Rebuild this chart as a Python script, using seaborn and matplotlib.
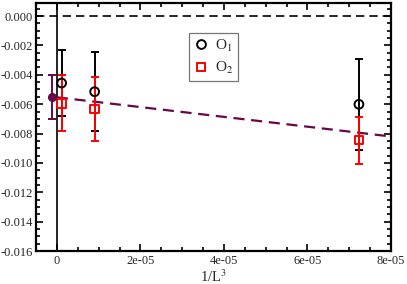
import matplotlib
matplotlib.use("Agg")
import matplotlib.pyplot as plt
import matplotlib.ticker as mticker
import pandas as pd
import seaborn as sns

# data
inv_l3 = [1 / 96**3, 1 / 48**3, 1 / 24**3]
o1 = [-0.00456, -0.00515, -0.00601]
o1_err = [0.00225, 0.0027, 0.0031]
o2 = [-0.00594, -0.00633, -0.00844]
o2_err = [0.0019, 0.0022, 0.0016]
extrap_x = [-1.2e-6]
extrap_y = [-0.00553]
extrap_err = [0.0015]
fit_x = [0.0, 8e-5]
fit_y = [-0.00553, -0.0082]

maroon = "#670748"

sns.set_theme(style="ticks")
plt.rcParams["font.family"] = ["Liberation Serif", "DejaVu Serif"]
plt.rcParams["mathtext.fontset"] = "stix"

fig = plt.figure(figsize=(4.07, 2.84), dpi=100)
ax = fig.add_axes([0.0885, 0.116, 0.872, 0.873])

ax.axhline(0, color="black", ls=(0, (5, 3)), lw=1.2, zorder=1)
ax.axvline(0, color="black", lw=1.2, zorder=1)

df_fit = pd.DataFrame({"x": fit_x, "y": fit_y})
sns.lineplot(data=df_fit, x="x", y="y", ax=ax, color=maroon, lw=1.6, zorder=2)
ax.lines[-1].set_linestyle((0, (5, 3)))

eb = dict(fmt="none", elinewidth=1.4, capsize=3, capthick=1.4)
ax.errorbar(inv_l3, o1, yerr=o1_err, ecolor="black", zorder=3, **eb)
ax.errorbar(inv_l3, o2, yerr=o2_err, ecolor="red", zorder=4, **eb)
ax.errorbar(extrap_x, extrap_y, yerr=extrap_err, ecolor=maroon, zorder=4, **eb)

df = pd.DataFrame({
    "x": inv_l3 * 2,
    "y": o1 + o2,
    "s": ["O$_1$"] * 3 + ["O$_2$"] * 3,
})
sns.scatterplot(data=df, x="x", y="y", hue="s", style="s",
                palette=["black", "red"], markers=["o", "s"], s=40,
                linewidth=1.4, ax=ax, zorder=5)
pts = ax.collections[-1]
pts.set_edgecolors(["black"] * 3 + ["red"] * 3)
pts.set_facecolors("none")
ax.plot(extrap_x, extrap_y, "o", color=maroon, ms=5.5, zorder=6)

leg = ax.legend(loc="upper left", bbox_to_anchor=(0.431, 0.879), frameon=True,
                fancybox=False, edgecolor="#555555", fontsize=11,
                handletextpad=0.4, borderpad=0.3, labelspacing=0.4,
                handlelength=1.0, borderaxespad=0)
leg.get_frame().set_linewidth(0.9)
for h, c in zip(leg.legend_handles, ["black", "red"]):
    h.set_markerfacecolor("none")
    h.set_markeredgecolor(c)
    h.set_markeredgewidth(1.4)

ax.set_xlim(-5e-6, 8e-5)
ax.set_ylim(-0.016, 0.00088)
ax.xaxis.set_major_locator(mticker.MultipleLocator(2e-5))
ax.xaxis.set_minor_locator(mticker.MultipleLocator(5e-6))
ax.yaxis.set_major_locator(mticker.MultipleLocator(0.002))
ax.yaxis.set_minor_locator(mticker.MultipleLocator(0.0005))
ax.xaxis.set_major_formatter(mticker.FuncFormatter(
    lambda v, p: "0" if abs(v) < 1e-12 else f"{v:.0e}"))
ax.yaxis.set_major_formatter(mticker.FuncFormatter(
    lambda v, p: "0.000" if abs(v) < 1e-12 else f"{v:.3f}"))

ax.tick_params(which="both", direction="in", top=True, right=True,
               labelsize=9, width=1.2, color="black")
ax.tick_params(axis="x", pad=3)
ax.tick_params(axis="y", pad=2)
ax.tick_params(which="major", length=5)
ax.tick_params(which="minor", length=3)
for sp in ax.spines.values():
    sp.set_linewidth(1.6)
    sp.set_color("black")

ax.set_xlabel("1/L$^3$", fontsize=10.5, labelpad=1)
ax.set_ylabel("")

fig.savefig("out.png", dpi=100)
